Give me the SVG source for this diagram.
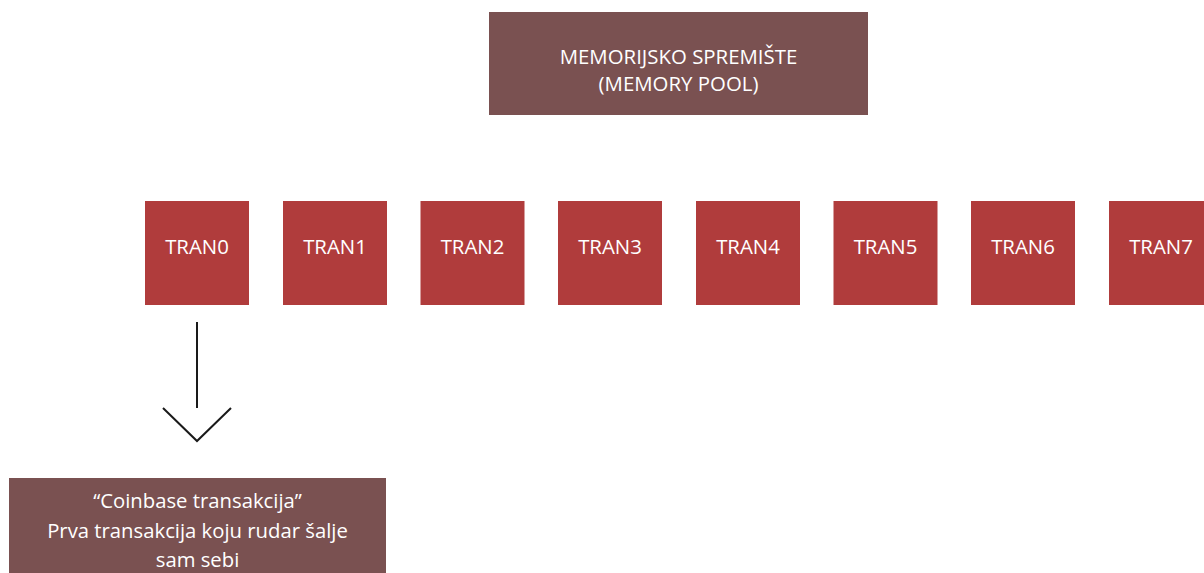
<svg xmlns="http://www.w3.org/2000/svg" width="1204" height="573" viewBox="0 0 1204 573">
<style>
.pool{fill:#7a5151}
.tran{fill:#b03c3c}
.t{font-family:"Open Sans","Liberation Sans",sans-serif;fill:#ffffff;text-anchor:middle}
.tt{font-size:20.4px}
.pt{font-size:20.4px}
.bt{font-size:20.3px}
.conn{fill:none;stroke:#1a1a1a;stroke-width:2}
</style>
<rect width="1204" height="573" fill="#ffffff"/>
<g id="memory-pool">
<rect class="pool" x="489" y="12" width="379" height="103"/>
<text class="t pt" x="678.5" y="64">MEMORIJSKO SPREMIŠTE</text>
<text class="t pt" x="678.5" y="91">(MEMORY POOL)</text>
</g>
<g id="tran0"><rect class="tran" x="145" y="201" width="104" height="104"/><text class="t tt" x="197" y="254">TRAN0</text></g>
<g id="tran1"><rect class="tran" x="283" y="201" width="104" height="104"/><text class="t tt" x="335" y="254">TRAN1</text></g>
<g id="tran2"><rect class="tran" x="420.5" y="201" width="104" height="104"/><text class="t tt" x="472.5" y="254">TRAN2</text></g>
<g id="tran3"><rect class="tran" x="558" y="201" width="104" height="104"/><text class="t tt" x="610" y="254">TRAN3</text></g>
<g id="tran4"><rect class="tran" x="696" y="201" width="104" height="104"/><text class="t tt" x="748" y="254">TRAN4</text></g>
<g id="tran5"><rect class="tran" x="833.5" y="201" width="104" height="104"/><text class="t tt" x="885.5" y="254">TRAN5</text></g>
<g id="tran6"><rect class="tran" x="971" y="201" width="104" height="104"/><text class="t tt" x="1023" y="254">TRAN6</text></g>
<g id="tran7"><rect class="tran" x="1109" y="201" width="104" height="104"/><text class="t tt" x="1161" y="254">TRAN7</text></g>
<g id="connectors">
<line class="conn" x1="197" y1="322" x2="197" y2="408"/>
<polyline class="conn" points="163,408 197,441 231,408"/>
</g>
<g id="coinbase">
<rect class="pool" x="9" y="478" width="377" height="100"/>
<text class="t bt" x="197.5" y="508">“Coinbase transakcija”</text>
<text class="t bt" x="197.5" y="538">Prva transakcija koju rudar šalje</text>
<text class="t bt" x="197.5" y="567">sam sebi</text>
</g>
</svg>
